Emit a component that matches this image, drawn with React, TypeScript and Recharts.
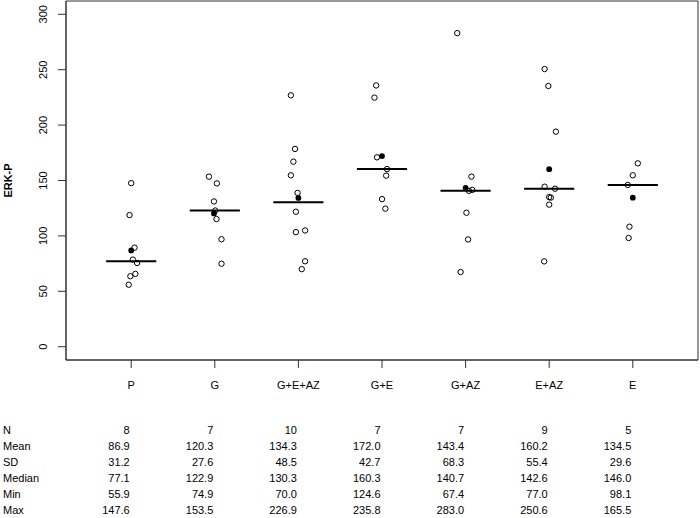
import {
  ReferenceArea,
  ReferenceLine,
  Scatter,
  ScatterChart,
  XAxis,
  YAxis,
} from 'recharts';

const groups = ['P', 'G', 'G+E+AZ', 'G+E', 'G+AZ', 'E+AZ', 'E'];

const valuesP = [147.6, 118.8, 89.4, 78.6, 75.6, 65.7, 63.6, 55.9];
const jitterP = [0.0, -0.02, 0.04, 0.02, 0.07, 0.05, -0.01, -0.03];
const valuesG = [153.5, 147.4, 131.1, 122.9, 115.2, 97.0, 74.9];
const jitterG = [-0.07, 0.025, -0.01, 0.005, 0.02, 0.08, 0.08];
const valuesGEAZ = [226.9, 178.5, 167.0, 154.7, 138.8, 121.8, 104.9, 103.4, 77.1, 70.0];
const jitterGEAZ = [-0.09, -0.04, -0.06, -0.09, -0.01, -0.03, 0.08, -0.03, 0.08, 0.04];
const valuesGE = [235.8, 224.8, 170.9, 160.3, 154.4, 133.2, 124.6];
const jitterGE = [-0.07, -0.09, -0.06, 0.06, 0.05, 0.0, 0.04];
const valuesGAZ = [283.0, 153.5, 141.5, 140.7, 120.9, 96.8, 67.4];
const jitterGAZ = [-0.1, 0.07, 0.08, 0.04, 0.01, 0.03, -0.06];
const valuesEAZ = [250.6, 235.3, 194.1, 144.4, 142.6, 135.0, 134.6, 128.2, 77.0];
const jitterEAZ = [-0.055, -0.01, 0.08, -0.055, 0.07, 0.0, 0.02, 0.0, -0.06];
const valuesE = [165.5, 154.7, 146.0, 108.3, 98.1];
const jitterE = [0.06, 0.0, -0.06, -0.04, -0.05];

const groupValues = [valuesP, valuesG, valuesGEAZ, valuesGE, valuesGAZ, valuesEAZ, valuesE];
const groupJitter = [jitterP, jitterG, jitterGEAZ, jitterGE, jitterGAZ, jitterEAZ, jitterE];

// summary table
const rowN = ['8', '7', '10', '7', '7', '9', '5'];
const rowMean = ['86.9', '120.3', '134.3', '172.0', '143.4', '160.2', '134.5'];
const rowSD = ['31.2', '27.6', '48.5', '42.7', '68.3', '55.4', '29.6'];
const rowMedian = ['77.1', '122.9', '130.3', '160.3', '140.7', '142.6', '146.0'];
const rowMin = ['55.9', '74.9', '70.0', '124.6', '67.4', '77.0', '98.1'];
const rowMax = ['147.6', '153.5', '226.9', '235.8', '283.0', '250.6', '165.5'];
const meanJitter = [0, -0.01, 0, 0, 0, 0, 0];

const rowLabels = ['N', 'Mean', 'SD', 'Median', 'Min', 'Max'];
const tableRows = [rowN, rowMean, rowSD, rowMedian, rowMin, rowMax];

const yTicks = [0, 50, 100, 150, 200, 250, 300];
const xTicks = groups.map((_, i) => i + 1);

const FONT = '"Liberation Sans", Arial, sans-serif';
const AXIS = '#333';

const points = groupValues.flatMap((vals, g) =>
  vals.map((v, j) => ({ x: g + 1 + groupJitter[g][j], y: v }))
);
const means = rowMean.map((m, g) => ({ x: g + 1 + meanJitter[g], y: parseFloat(m) }));

const OpenDot = (p: any) => (
  <circle cx={p.cx} cy={p.cy} r={2.7} fill='none' stroke='#000' strokeWidth={1} />
);
const FilledDot = (p: any) => <circle cx={p.cx} cy={p.cy} r={2.9} fill='#000' />;

const YTick = ({ x, y, payload }: any) => (
  <text
    x={x - 9}
    y={y}
    transform={`rotate(-90, ${x - 9}, ${y})`}
    textAnchor='middle'
    fontSize={11}
    fontFamily={FONT}
    fill='#000'
  >
    {payload.value}
  </text>
);

const XTick = ({ x, y, payload, index }: any) => {
  const g = payload.value - 1;
  return (
    <g fontFamily={FONT} fontSize={11} fill='#000'>
      <text x={x} y={y + 19} textAnchor='middle'>
        {groups[g]}
      </text>
      {tableRows.map((row, r) => (
        <text key={r} x={x - 1.5} y={y + 63.5 + r * 16.05} textAnchor='end'>
          {row[g]}
        </text>
      ))}
      {index === 0 &&
        rowLabels.map((lab, r) => (
          <text key={'l' + r} x={3} y={y + 63.5 + r * 16.05} textAnchor='start'>
            {lab}
          </text>
        ))}
    </g>
  );
};

export default function App() {
  return (
    <div style={{ position: 'absolute', left: 0, top: 0, width: 700, height: 518, background: '#fff' }}>
      <ScatterChart width={700} height={518} margin={{ top: 1, right: 2, bottom: 0, left: 0 }}>
        <XAxis
          type='number'
          dataKey='x'
          domain={[0.22, 7.78]}
          ticks={xTicks}
          allowDataOverflow
          height={158}
          tickSize={8}
          axisLine={{ stroke: AXIS }}
          tickLine={{ stroke: AXIS }}
          tick={XTick}
          interval={0}
        />
        <YAxis
          type='number'
          dataKey='y'
          domain={[-12, 312]}
          ticks={yTicks}
          allowDataOverflow
          width={66}
          tickSize={8}
          axisLine={{ stroke: AXIS }}
          tickLine={{ stroke: AXIS }}
          tick={YTick}
          interval={0}
          label={{
            value: 'ERK-P',
            angle: -90,
            position: 'insideLeft',
            offset: 8,
            style: { textAnchor: 'middle', fontWeight: 'bold', fontSize: 11, fontFamily: FONT, fill: '#000' },
          }}
        />
        <ReferenceArea x1={0.22} x2={7.78} y1={-12} y2={312} fill='none' stroke={AXIS} strokeWidth={1} fillOpacity={0} />
        <Scatter data={points} shape={OpenDot} isAnimationActive={false} />
        {rowMedian.map((m, g) => (
          <ReferenceLine
            key={g}
            segment={[
              { x: g + 0.7, y: parseFloat(m) },
              { x: g + 1.3, y: parseFloat(m) },
            ]}
            stroke='#000'
            strokeWidth={2}
          />
        ))}
        <Scatter data={means} shape={FilledDot} isAnimationActive={false} />
      </ScatterChart>
    </div>
  );
}
